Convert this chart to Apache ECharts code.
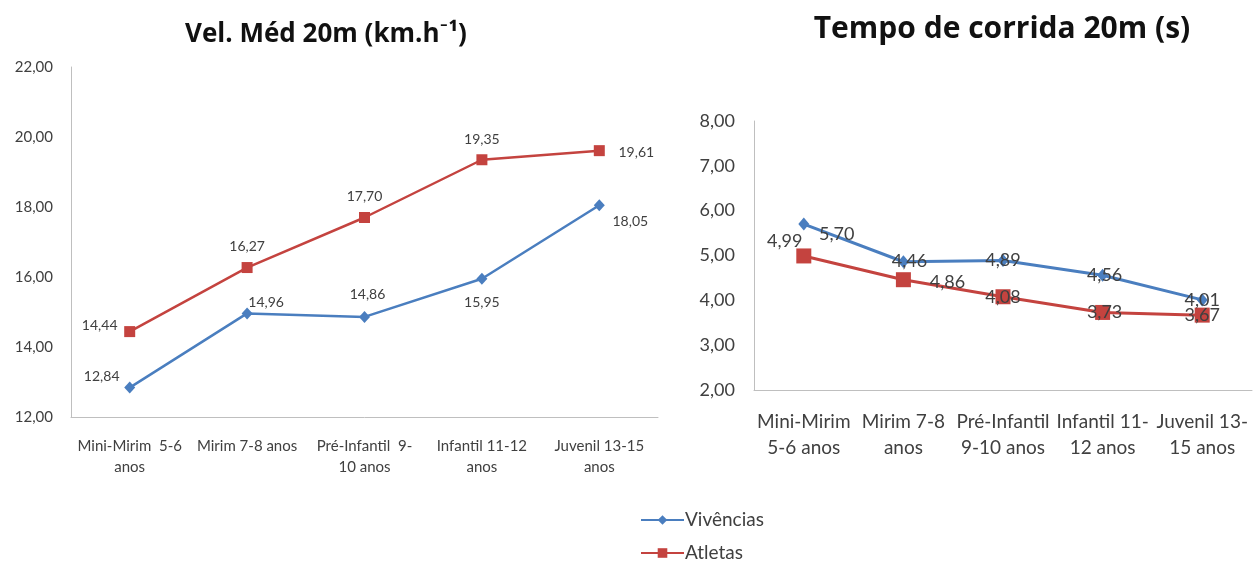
<!DOCTYPE html>
<html>
<head>
<meta charset="utf-8">
<title>Vel. Méd 20m e Tempo de corrida 20m</title>
<script src="https://cdn.jsdelivr.net/npm/echarts@6/dist/echarts.min.js"></script>
<style>
  html, body { margin: 0; padding: 0; background: #ffffff; }
  #chart { width: 1253px; height: 565px; }
</style>
</head>
<body>
<div id="chart"></div>
<script>
// Age groups (wrapped differently in each panel)
const velCategories = ['Mini-Mirim  5-6\nanos', 'Mirim 7-8 anos', 'Pré-Infantil  9-\n10 anos', 'Infantil 11-12\nanos', 'Juvenil 13-15\nanos'];
const tempoCategories = ['Mini-Mirim\n5-6 anos', 'Mirim 7-8\nanos', 'Pré-Infantil\n9-10 anos', 'Infantil 11-\n12 anos', 'Juvenil 13-\n15 anos'];

// Mean 20 m speed (km/h)
const velVivencias = [12.84, 14.96, 14.86, 15.95, 18.05];
const velAtletas = [14.44, 16.27, 17.70, 19.35, 19.61];

// 20 m sprint time (s)
const tempoVivencias = [5.70, 4.86, 4.89, 4.56, 4.01];
const tempoAtletas = [4.99, 4.46, 4.08, 3.73, 3.67];

// Axis ranges / tick steps
const velAxis = { min: 12, max: 22, interval: 2 };
const tempoAxis = { min: 2, max: 8, interval: 1 };

// Hand-placed data label shifts (px from each point's centre)
const velVivShift = [[-28, -11], [19, -11], [3, -22], [0, 24], [31, 16]];
const velAtlShift = [[-30, -6], [0, -21], [0, -21], [0, -20], [37, 2]];
const tempoVivShift = [[33, 10], [44, 20], [0, 0], [2, 0], [0, 0]];
const tempoAtlShift = [[-19, -15], [6, -19], [0, 0], [2, 0], [0, 0]];

const BLUE = '#4a7ebf';
const RED = '#c4433f';
const TEXT = '#404040';
const AXIS = '#bfbfbf';
const FONT = 'Lato, "Open Sans", sans-serif';
const TITLE_FONT = '"Open Sans", Lato, sans-serif';

const fmt = v => v.toFixed(2).replace('.', ',');

function withLabels(values, shifts) {
  return values.map((v, i) => ({ value: v, label: { offset: shifts[i] } }));
}

function valueAxis(gridIndex, range, fontSize, margin) {
  return {
    type: 'value', gridIndex,
    min: range.min, max: range.max, interval: range.interval,
    axisLine: { show: true, lineStyle: { color: AXIS, width: 1 } },
    axisTick: { show: false },
    splitLine: { show: false },
    axisLabel: { color: TEXT, fontFamily: FONT, fontSize, margin, formatter: fmt }
  };
}

function categoryAxis(gridIndex, cats, fontSize, lineHeight, margin) {
  return {
    type: 'category', gridIndex, data: cats, boundaryGap: true,
    axisLine: { show: true, lineStyle: { color: AXIS, width: 1 } },
    axisTick: { show: false },
    axisLabel: { color: TEXT, fontFamily: FONT, fontSize, lineHeight, margin, interval: 0 }
  };
}

function lineSeries(name, color, symbol, size, width, xi, yi, data, labelSize) {
  return {
    name, type: 'line', xAxisIndex: xi, yAxisIndex: yi,
    data, symbol, symbolSize: size, showAllSymbol: true,
    lineStyle: { color, width },
    itemStyle: { color },
    label: {
      show: true, position: 'inside', color: TEXT, fontFamily: FONT, fontSize: labelSize,
      formatter: p => fmt(p.value)
    },
    emphasis: { disabled: true }
  };
}

const chart = echarts.init(document.getElementById('chart'), null, { renderer: 'canvas' });

chart.setOption({
  animation: false,
  backgroundColor: '#ffffff',
  title: [
    {
      text: 'Vel. Méd 20m (km.h⁻¹)', left: 321, top: 15, textAlign: 'center',
      textStyle: { fontFamily: TITLE_FONT, fontSize: 26, fontWeight: 'bold', color: '#111', lineHeight: 30 }
    },
    {
      text: 'Tempo de corrida 20m (s)', left: 997, top: 6, textAlign: 'center',
      textStyle: { fontFamily: TITLE_FONT, fontSize: 30, fontWeight: 'bold', color: '#111', lineHeight: 36 }
    }
  ],
  legend: {
    orient: 'vertical', left: 640, top: 510, padding: 0,
    itemWidth: 43, itemHeight: 12, itemGap: 13,
    textStyle: { color: TEXT, fontFamily: FONT, fontSize: 19, lineHeight: 20, padding: [0, 0, 0, -4] },
    data: ['Vivências', 'Atletas']
  },
  grid: [
    { left: 71, top: 67, width: 587, height: 350 },
    { left: 754, top: 121, width: 498, height: 269 }
  ],
  xAxis: [
    categoryAxis(0, velCategories, 15, 21, 19),
    categoryAxis(1, tempoCategories, 19, 26, 19)
  ],
  yAxis: [
    valueAxis(0, velAxis, 15, 18),
    valueAxis(1, tempoAxis, 18, 19)
  ],
  series: [
    lineSeries('Vivências', BLUE, 'diamond', [11, 12], 2.5, 0, 0, withLabels(velVivencias, velVivShift), 14),
    lineSeries('Atletas', RED, 'rect', 11, 2.5, 0, 0, withLabels(velAtletas, velAtlShift), 14),
    lineSeries('Vivências', BLUE, 'diamond', [11, 13], 3, 1, 1, withLabels(tempoVivencias, tempoVivShift), 18),
    lineSeries('Atletas', RED, 'rect', 15, 3, 1, 1, withLabels(tempoAtletas, tempoAtlShift), 18)
  ]
});
</script>
</body>
</html>
